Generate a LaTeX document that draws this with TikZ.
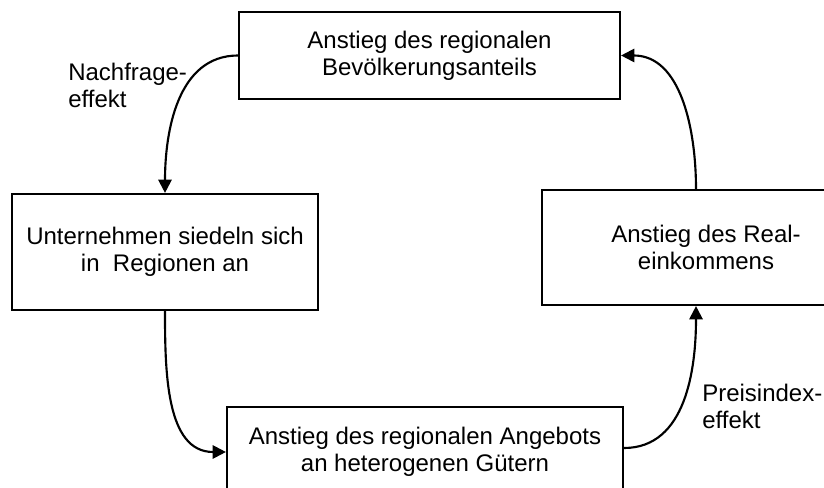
\documentclass[tikz,border=0pt]{standalone}
\usepackage{fontspec}
\setmainfont{Liberation Sans}
\usepackage{tikz}
\usetikzlibrary{arrows.meta}

\begin{document}
\begin{tikzpicture}[x=0.75pt, y=-0.75pt,
        testo/.style={font=\fontsize{18}{20.25}\selectfont, align=center, inner sep=0pt},
        riquadro/.style={testo, draw, line width=1.6pt},
        freccia/.style={-{Triangle[length=10pt, width=10pt]}, line width=1.6pt}]
            \clip (0,0) rectangle (824,488);

            % Riquadri
            \node[riquadro, minimum width=285.75pt, minimum height=65.25pt] (popolazione) at (429.5,55.5)
                {Anstieg des regionalen\\Bevölkerungsanteils\hspace{12pt}};
            \node[riquadro, minimum width=229.5pt, minimum height=87pt] (imprese) at (165,252)
                {Unternehmen siedeln sich\\in\ \ Regionen an};
            \node[riquadro, minimum width=297pt, minimum height=67.5pt] (offerta) at (425,452)
                {Anstieg des regionalen Angebots\\an heterogenen Gütern};
            \node[riquadro, minimum width=246pt, minimum height=86.25pt] (reddito) at (706,247.5)
                {Anstieg des Real-\\einkommens};

            % Etichette
            \node[testo, anchor=west, align=left] (nachfrage) at (68,85) {Nachfrage-\\effekt};
            \node[testo, anchor=west, align=left] (preisindex) at (702,406.5) {Preisindex-\\effekt};

            % Frecce
            \draw[freccia] (popolazione.west) to[out=180, in=90] (imprese.north);
            \draw[freccia] (imprese.south) to[out=-90, in=180] (offerta.west);
            \draw[freccia] ([yshift=3pt]offerta.east) to[out=0, in=-90] ([xshift=-7.5pt]reddito.south);
            \draw[freccia] ([xshift=-7.5pt]reddito.north) to[out=90, in=0] (popolazione.east);
        \end{tikzpicture}
\end{document}
